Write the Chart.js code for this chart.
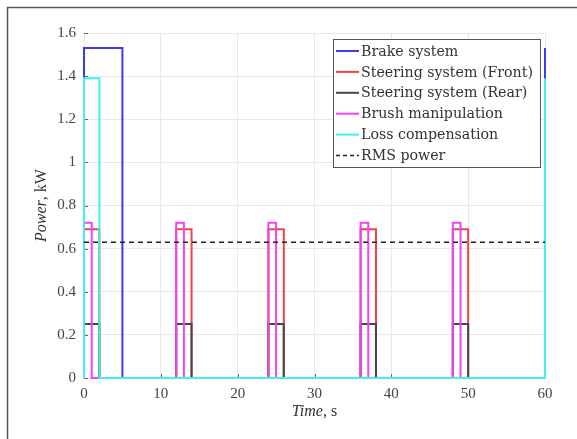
<!DOCTYPE html>
<html>
<head>
<meta charset="utf-8">
<title>Power profile</title>
<script src="https://cdn.jsdelivr.net/npm/chart.js@4"></script>
<style>
  html, body { margin: 0; padding: 0; background: #fff; }
  #chart { display: block; }
</style>
</head>
<body>
<canvas id="chart" width="577" height="439"></canvas>
<script>
// step breakpoints (time in s, power in kW)
const brakeTime = [0, 0, 5, 60, 60]
const brakePower = [0, 1.53, 0, 0, 1.53]

const frontTime = [0, 0, 2, 12, 12, 14, 24, 24, 26, 36, 36, 38, 48, 48, 50, 60, 60]
const frontPower = [0, 0.69, 0, 0, 0.69, 0, 0, 0.69, 0, 0, 0.69, 0, 0, 0.69, 0, 0, 0.69]

const rearTime = [0, 0, 2, 12, 12, 14, 24, 24, 26, 36, 36, 38, 48, 48, 50, 60, 60]
const rearPower = [0, 0.25, 0, 0, 0.25, 0, 0, 0.25, 0, 0, 0.25, 0, 0, 0.25, 0, 0, 0.25]

const brushTime = [0, 0, 1, 12, 12, 13, 24, 24, 25, 36, 36, 37, 48, 48, 49, 60, 60]
const brushPower = [0, 0.72, 0, 0, 0.72, 0, 0, 0.72, 0, 0, 0.72, 0, 0, 0.72, 0, 0, 0.72]

const lossTime = [0, 0, 2, 60, 60]
const lossPower = [0, 1.39, 0, 0, 1.39]

const rmsTime = [0, 60]
const rmsPower = [0.629, 0.629]

const xTicks = [0, 10, 20, 30, 40, 50, 60]
const yTicks = [0, 0.2, 0.4, 0.6, 0.8, 1, 1.2, 1.4, 1.6]

const serif = "'Liberation Serif', 'DejaVu Serif', serif"
const legendFont = "'DejaVu Serif', serif"

function toPoints(times, values) {
  return times.map((t, i) => ({ x: t, y: values[i] }))
}

function stepSeries(label, times, values, color, order) {
  return {
    label: label,
    data: toPoints(times, values),
    borderColor: color,
    backgroundColor: color,
    borderWidth: 2,
    pointRadius: 0,
    stepped: true,
    clip: 4,
    order: order
  }
}

const datasets = [
  stepSeries('Brake system', brakeTime, brakePower, '#3b3bef', 5),
  stepSeries('Steering system (Front)', frontTime, frontPower, '#f04343', 4),
  stepSeries('Steering system (Rear)', rearTime, rearPower, '#474747', 3),
  stepSeries('Brush manipulation', brushTime, brushPower, '#f044f0', 2),
  stepSeries('Loss compensation', lossTime, lossPower, '#44eeee', 1),
  {
    label: 'RMS power',
    data: toPoints(rmsTime, rmsPower),
    borderColor: '#222',
    borderWidth: 1.5,
    borderDash: [5, 4],
    pointRadius: 0,
    clip: 4,
    order: 0
  }
]

// draw text made of an italic part followed by an upright part, centred at 0
function mixedText(ctx, italicPart, plainPart, y) {
  ctx.font = 'italic 16px ' + serif
  const aw = ctx.measureText(italicPart).width
  ctx.font = '16px ' + serif
  const bw = ctx.measureText(plainPart).width
  const sx = -(aw + bw) / 2
  ctx.textAlign = 'left'
  ctx.font = 'italic 16px ' + serif
  ctx.fillText(italicPart, sx, y)
  ctx.font = '16px ' + serif
  ctx.fillText(plainPart, sx + aw, y)
}

// outer frame, inward tick marks, axis titles and boxed legend
const decorations = {
  id: 'decorations',
  beforeDraw(chart) {
    const ctx = chart.ctx
    ctx.save()
    ctx.strokeStyle = '#555'
    ctx.lineWidth = 1.5
    ctx.beginPath()
    ctx.moveTo(7.5, chart.height)
    ctx.lineTo(7.5, 7.5)
    ctx.lineTo(chart.width, 7.5)
    ctx.stroke()
    ctx.restore()
  },
  beforeDatasetsDraw(chart) {
    const ctx = chart.ctx
    const area = chart.chartArea
    const xs = chart.scales.x
    const ys = chart.scales.y
    ctx.save()
    ctx.strokeStyle = '#666'
    ctx.lineWidth = 1
    ctx.beginPath()
    yTicks.forEach(v => {
      const y = Math.round(ys.getPixelForValue(v)) + 0.5
      ctx.moveTo(area.left, y)
      ctx.lineTo(area.left + 4, y)
    })
    xTicks.forEach(v => {
      const x = Math.round(xs.getPixelForValue(v)) + 0.5
      ctx.moveTo(x, area.bottom)
      ctx.lineTo(x, area.bottom - 4)
    })
    ctx.stroke()
    ctx.restore()
  },
  afterDraw(chart) {
    const ctx = chart.ctx
    const area = chart.chartArea
    ctx.save()
    ctx.fillStyle = '#333'
    ctx.textBaseline = 'middle'

    // y axis title
    ctx.translate(42, (area.top + area.bottom) / 2)
    ctx.rotate(-Math.PI / 2)
    mixedText(ctx, 'Power', ', kW', 0)
    ctx.setTransform(1, 0, 0, 1, 0, 0)

    // x axis title
    ctx.translate((area.left + area.right) / 2, 0)
    mixedText(ctx, 'Time', ', s', 412)
    ctx.setTransform(1, 0, 0, 1, 0, 0)

    // legend box
    const lx = 333
    const ly = 39
    const lw = 207
    const lh = 128
    ctx.fillStyle = '#fff'
    ctx.fillRect(lx, ly, lw, lh)
    ctx.strokeStyle = '#555'
    ctx.lineWidth = 1
    ctx.strokeRect(lx + 0.5, ly + 0.5, lw, lh)
    ctx.font = '14.2px ' + legendFont
    ctx.textAlign = 'left'
    ctx.textBaseline = 'middle'
    chart.data.datasets.forEach((ds, i) => {
      const y = 51 + i * 20.9
      ctx.strokeStyle = ds.borderColor
      ctx.lineWidth = ds.borderDash ? 1.5 : 2
      ctx.setLineDash(ds.borderDash ? [4, 3] : [])
      ctx.beginPath()
      ctx.moveTo(lx + 3, y)
      ctx.lineTo(lx + 26, y)
      ctx.stroke()
      ctx.setLineDash([])
      ctx.fillStyle = '#333'
      ctx.fillText(ds.label, lx + 28, y + 1)
    })
    ctx.restore()
  }
}

const chart = new Chart(document.getElementById('chart'), {
  type: 'line',
  data: { datasets: datasets },
  options: {
    responsive: false,
    animation: false,
    layout: { padding: { left: 0, top: 33, right: 32, bottom: 0 } },
    plugins: {
      legend: { display: false },
      tooltip: { enabled: false }
    },
    scales: {
      x: {
        type: 'linear',
        min: 0,
        max: 60,
        afterBuildTicks: scale => { scale.ticks = xTicks.map(v => ({ value: v })) },
        afterFit: scale => { scale.height = 61 },
        grid: { color: '#e9e9e9', drawTicks: false },
        border: { display: false },
        ticks: {
          padding: 7,
          color: '#444',
          font: { family: serif, size: 15 }
        }
      },
      y: {
        type: 'linear',
        min: 0,
        max: 1.6,
        afterBuildTicks: scale => { scale.ticks = yTicks.map(v => ({ value: v })) },
        afterFit: scale => { scale.width = 84 },
        grid: { color: '#e9e9e9', drawTicks: false },
        border: { display: false },
        ticks: {
          padding: 8,
          color: '#444',
          font: { family: serif, size: 15 },
          callback: v => String(Number(v.toFixed(1)))
        }
      }
    }
  },
  plugins: [decorations]
})
</script>
</body>
</html>
